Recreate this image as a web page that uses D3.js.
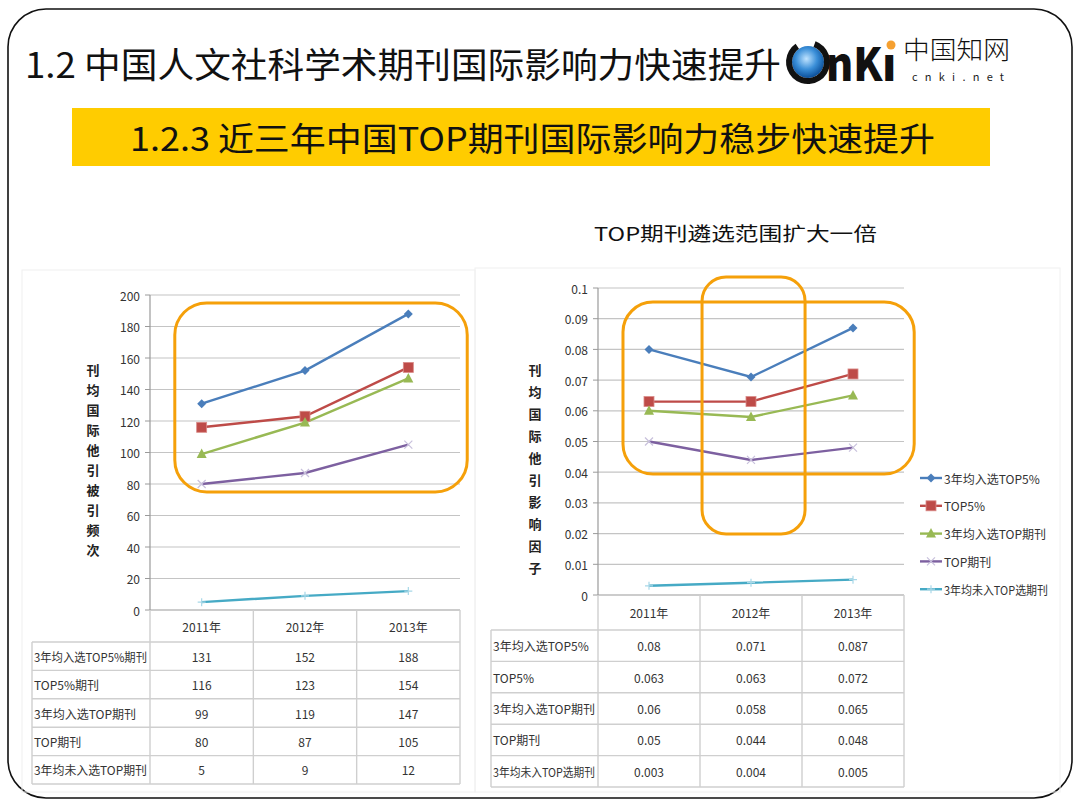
<!DOCTYPE html>
<html><head><meta charset="utf-8">
<script src="https://cdn.jsdelivr.net/npm/d3@7/dist/d3.min.js"></script>
<style>
html,body{margin:0;padding:0;background:#fff;}
svg{display:block;}
text{font-family:"Noto Sans CJK SC","Noto Sans",sans-serif;}
</style></head>
<body>
<svg id="c" width="1080" height="810"></svg>
<script>
// ---------------- data ----------------
const years = ["2011年", "2012年", "2013年"];
const citeNames = ["3年均入选TOP5%期刊", "TOP5%期刊", "3年均入选TOP期刊", "TOP期刊", "3年均未入选TOP期刊"];
const citeTop5Both = [131, 152, 188];
const citeTop5 = [116, 123, 154];
const citeTopBoth = [99, 119, 147];
const citeTop = [80, 87, 105];
const citeNone = [5, 9, 12];
const citeTicks = [0, 20, 40, 60, 80, 100, 120, 140, 160, 180, 200];

const ifNames = ["3年均入选TOP5%", "TOP5%", "3年均入选TOP期刊", "TOP期刊", "3年均未入TOP选期刊"];
const ifTop5Both = [0.08, 0.071, 0.087];
const ifTop5 = [0.063, 0.063, 0.072];
const ifTopBoth = [0.06, 0.058, 0.065];
const ifTop = [0.05, 0.044, 0.048];
const ifNone = [0.003, 0.004, 0.005];
const ifTicks = [0, 0.01, 0.02, 0.03, 0.04, 0.05, 0.06, 0.07, 0.08, 0.09, 0.1];

const citeSeries = [citeTop5Both, citeTop5, citeTopBoth, citeTop, citeNone];
const ifSeries = [ifTop5Both, ifTop5, ifTopBoth, ifTop, ifNone];

const colors = ["#4A7EBB", "#BE4B48", "#98B954", "#7D60A0", "#46AAC5"];
const markers = ["diamond", "square", "triangle", "x", "plus"];

const svg = d3.select("#c");

// ---------------- slide frame ----------------
svg.append("rect").attr("x", 8).attr("y", 9).attr("width", 1064).attr("height", 789)
  .attr("rx", 38).attr("fill", "#fff").attr("stroke", "#111").attr("stroke-width", 1.6);

// chart picture borders (faint)
svg.append("rect").attr("x", 22).attr("y", 270).attr("width", 453).attr("height", 522)
  .attr("fill", "none").attr("stroke", "#f0f0f0");
svg.append("rect").attr("x", 475).attr("y", 268).attr("width", 585).attr("height", 524)
  .attr("fill", "none").attr("stroke", "#f0f0f0");

// ---------------- titles ----------------
svg.append("text").attr("x", 25).attr("y", 62).attr("dominant-baseline", "central")
  .attr("font-size", 35).attr("fill", "#111")
  .attr("textLength", 756).attr("lengthAdjust", "spacingAndGlyphs")
  .text("1.2 中国人文社科学术期刊国际影响力快速提升");

svg.append("rect").attr("x", 72).attr("y", 108).attr("width", 918).attr("height", 58).attr("fill", "#FFCC00");
svg.append("text").attr("x", 130).attr("y", 137).attr("dominant-baseline", "central")
  .attr("font-size", 33).attr("fill", "#111")
  .attr("textLength", 805).attr("lengthAdjust", "spacingAndGlyphs")
  .text("1.2.3 近三年中国TOP期刊国际影响力稳步快速提升");

svg.append("text").attr("x", 594).attr("y", 232).attr("dominant-baseline", "central")
  .attr("font-size", 19).attr("fill", "#111")
  .attr("textLength", 283).attr("lengthAdjust", "spacingAndGlyphs")
  .text("TOP期刊遴选范围扩大一倍");

// ---------------- logo ----------------
const defs = svg.append("defs");
const rg = defs.append("radialGradient").attr("id", "globe").attr("cx", "45%").attr("cy", "40%").attr("r", "60%");
rg.append("stop").attr("offset", "0%").attr("stop-color", "#bfe3ff");
rg.append("stop").attr("offset", "55%").attr("stop-color", "#3b8fd8");
rg.append("stop").attr("offset", "100%").attr("stop-color", "#0b4f9a");
const logo = svg.append("g");
logo.append("circle").attr("cx", 808).attr("cy", 62).attr("r", 16).attr("fill", "url(#globe)");
logo.append("path").attr("fill", "#111")
  .attr("transform", "translate(808,62)")
  .attr("d", d3.arc().innerRadius(16).outerRadius(22).startAngle(0.35).endAngle(Math.PI * 2 - 0.6)());
logo.append("text").attr("x", 826).attr("y", 81).attr("font-size", 46).attr("font-weight", 900)
  .attr("fill", "#111").attr("textLength", 70).attr("lengthAdjust", "spacingAndGlyphs").text("nKı");
logo.append("circle").attr("cx", 891).attr("cy", 45).attr("r", 4.5).attr("fill", "#F5A030");
logo.append("text").attr("x", 903).attr("y", 48).attr("dominant-baseline", "central")
  .attr("font-size", 25).attr("font-weight", 300).attr("fill", "#111")
  .attr("textLength", 107).attr("lengthAdjust", "spacingAndGlyphs").text("中国知网");
logo.append("text").attr("x", 912).attr("y", 76).attr("dominant-baseline", "central")
  .attr("font-size", 11).attr("fill", "#222").attr("font-family", "DejaVu Sans Mono")
  .attr("textLength", 92).attr("lengthAdjust", "spacing").text("cnki.net");

// ---------------- helpers ----------------
function drawMarker(g, type, x, y, color) {
  if (type === "diamond") {
    g.append("path").attr("d", `M${x},${y-4.5}L${x+4.5},${y}L${x},${y+4.5}L${x-4.5},${y}Z`).attr("fill", color);
  } else if (type === "square") {
    g.append("rect").attr("x", x - 5).attr("y", y - 5).attr("width", 10).attr("height", 10)
      .attr("fill", color).attr("stroke", "#d98a88").attr("stroke-width", 0.8);
  } else if (type === "triangle") {
    g.append("path").attr("d", `M${x},${y-5.5}L${x+5},${y+4}L${x-5},${y+4}Z`).attr("fill", color);
  } else if (type === "x") {
    g.append("path").attr("d", `M${x-4},${y-4}L${x+4},${y+4}M${x-4},${y+4}L${x+4},${y-4}`)
      .attr("stroke", "#c8c0dc").attr("stroke-width", 1.2);
  } else {
    g.append("path").attr("d", `M${x-4},${y}L${x+4},${y}M${x},${y-4}L${x},${y+4}`)
      .attr("stroke", "#a8d8e8").attr("stroke-width", 1.2);
  }
}

function fitText(sel, maxW) {
  sel.each(function () {
    const w = this.getComputedTextLength();
    if (w > maxW) d3.select(this).attr("textLength", maxW).attr("lengthAdjust", "spacingAndGlyphs");
  });
}

function drawChart(opt) {
  const g = svg.append("g");
  const x = d3.scaleBand().domain(years).range(opt.xRange).padding(0);
  const y = d3.scaleLinear().domain(opt.yDomain).range(opt.yRange);
  const [x0, x1] = opt.xRange;

  // gridlines
  g.selectAll(".grid").data(opt.ticks).enter().append("line")
    .attr("x1", x0).attr("x2", x1).attr("y1", d => y(d)).attr("y2", d => y(d))
    .attr("stroke", d => d === 0 ? "#9a9a9a" : "#c4c4c4").attr("stroke-width", 1.2);
  // y axis line + ticks
  g.append("line").attr("x1", x0).attr("x2", x0).attr("y1", y(opt.yDomain[1])).attr("y2", y(0))
    .attr("stroke", "#9a9a9a").attr("stroke-width", 1.2);
  g.selectAll(".tk").data(opt.ticks).enter().append("line")
    .attr("x1", x0 - 5).attr("x2", x0).attr("y1", d => y(d)).attr("y2", d => y(d))
    .attr("stroke", "#9a9a9a");
  g.selectAll(".tl").data(opt.ticks).enter().append("text")
    .attr("x", x0 - 10).attr("y", d => y(d)).attr("dominant-baseline", "central")
    .attr("text-anchor", "end").attr("font-size", 12).attr("fill", "#333")
    .text(d => opt.tickFmt(d));

  // y title
  const chars = Array.from(opt.yTitle);
  g.selectAll(".yt").data(chars).enter().append("text")
    .attr("x", opt.yTitleX).attr("y", (d, i) => opt.yTitleY + i * opt.yTitleStep)
    .attr("text-anchor", "middle").attr("dominant-baseline", "central")
    .attr("font-size", 13).attr("font-weight", 700).attr("fill", "#222").text(d => d);

  // lines
  const line = d3.line().x((d, i) => x(years[i]) + x.bandwidth() / 2).y(d => y(d));
  opt.series.forEach((s, k) => {
    g.append("path").attr("d", line(s)).attr("fill", "none")
      .attr("stroke", colors[k]).attr("stroke-width", 2.4);
  });
  opt.series.forEach((s, k) => {
    s.forEach((v, i) => drawMarker(g, markers[k], x(years[i]) + x.bandwidth() / 2, y(v), colors[k]));
  });

  // table
  const tb = opt.table;
  const rowH = (tb.bottom - tb.headerBottom) / opt.series.length;
  const tg = svg.append("g");
  const lc = "#cfcfcf";
  tg.selectAll(".hd").data(years).enter().append("text")
    .attr("x", d => x(d) + x.bandwidth() / 2).attr("y", (y(0) + tb.headerBottom) / 2)
    .attr("text-anchor", "middle").attr("dominant-baseline", "central")
    .attr("font-size", 12).attr("fill", "#333").text(d => d);
  const vx = years.map(d => x(d)).concat([x1]);
  tg.selectAll(".vl").data(vx).enter().append("line")
    .attr("x1", d => d).attr("x2", d => d).attr("y1", y(0)).attr("y2", tb.bottom)
    .attr("stroke", lc).attr("stroke-width", 1.4);
  tg.append("line").attr("x1", tb.left).attr("x2", tb.left).attr("y1", tb.headerBottom).attr("y2", tb.bottom)
    .attr("stroke", lc).attr("stroke-width", 1.4);
  const hy = d3.range(opt.series.length + 1).map(i => tb.headerBottom + i * rowH);
  tg.selectAll(".hl").data(hy).enter().append("line")
    .attr("x1", tb.left).attr("x2", x1).attr("y1", d => d).attr("y2", d => d)
    .attr("stroke", lc).attr("stroke-width", 1.4);
  opt.names.forEach((n, k) => {
    const cy = tb.headerBottom + (k + 0.5) * rowH;
    const t = tg.append("text").attr("x", tb.left + 2).attr("y", cy).attr("dominant-baseline", "central")
      .attr("font-size", 12).attr("fill", "#333").text(n);
    fitText(t, x0 - tb.left - 5);
    opt.series[k].forEach((v, i) => {
      tg.append("text").attr("x", x(years[i]) + x.bandwidth() / 2).attr("y", cy)
        .attr("text-anchor", "middle").attr("dominant-baseline", "central")
        .attr("font-size", 12).attr("fill", "#333").text(String(v));
    });
  });

  // orange highlight boxes
  const cx = i => x(years[i]) + x.bandwidth() / 2;
  const bw = x.bandwidth();
  opt.boxes.forEach(b => {
    const bx0 = cx(b.i0) + b.o0 * bw, bx1 = cx(b.i1) + b.o1 * bw;
    svg.append("rect").attr("x", bx0).attr("y", y(b.vTop)).attr("width", bx1 - bx0)
      .attr("height", y(b.vBot) - y(b.vTop)).attr("rx", b.r)
      .attr("fill", "none").attr("stroke", "#F5A00A").attr("stroke-width", 3);
  });
  return {x, y};
}

// ---------------- left chart ----------------
drawChart({
  xRange: [150, 460], yDomain: [0, 200], yRange: [610, 295],
  ticks: citeTicks, tickFmt: d => String(d),
  yTitle: "刊均国际他引被引频次", yTitleX: 93, yTitleY: 369, yTitleStep: 20,
  series: citeSeries, names: citeNames,
  table: {left: 32, headerBottom: 642, bottom: 784},
  boxes: [{i0: 0, o0: -0.26, i1: 2, o1: 0.57, vTop: 195, vBot: 75, r: 32}]
});

// ---------------- right chart ----------------
drawChart({
  xRange: [598, 904], yDomain: [0, 0.1], yRange: [595, 288],
  ticks: ifTicks, tickFmt: d => d === 0 ? "0" : String(+d.toFixed(2)),
  yTitle: "刊均国际他引影响因子", yTitleX: 535, yTitleY: 369, yTitleStep: 22,
  series: ifSeries, names: ifNames,
  table: {left: 491, headerBottom: 630, bottom: 787},
  boxes: [
    {i0: 0, o0: -0.255, i1: 2, o1: 0.6, vTop: 0.0954, vBot: 0.0394, r: 30},
    {i0: 1, o0: -0.48, i1: 1, o1: 0.53, vTop: 0.1036, vBot: 0.0199, r: 24}
  ]
});

// legend (right chart)
const lg = svg.append("g");
ifNames.forEach((n, k) => {
  const ly = 478 + k * 27.8;
  lg.append("line").attr("x1", 920).attr("x2", 942).attr("y1", ly).attr("y2", ly)
    .attr("stroke", colors[k]).attr("stroke-width", 2.4);
  drawMarker(lg, markers[k], 931, ly, colors[k]);
  const t = lg.append("text").attr("x", 944).attr("y", ly).attr("dominant-baseline", "central")
    .attr("font-size", 12).attr("fill", "#333").text(n);
  fitText(t, 104);
});
</script>
</body></html>
